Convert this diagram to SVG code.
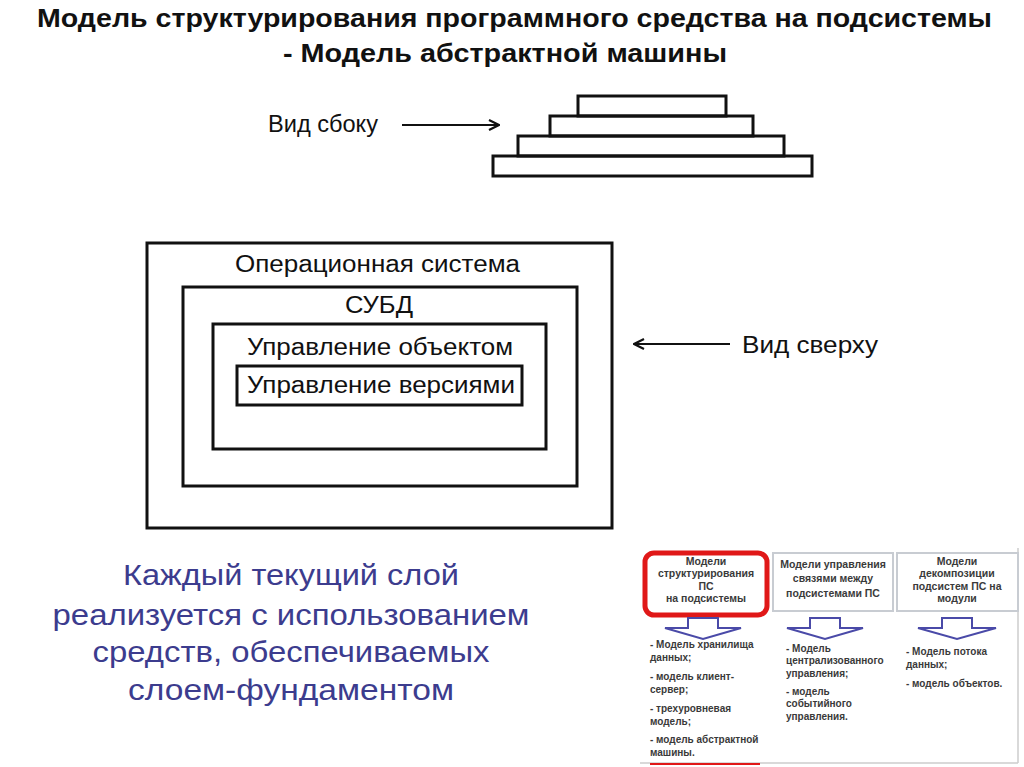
<svg xmlns="http://www.w3.org/2000/svg" width="1024" height="767" viewBox="0 0 1024 767">
<defs>
<style>
.title{font-family:"Liberation Sans",Arial,sans-serif;font-weight:bold;font-size:25px;fill:#111}
.lbl{font-family:"Liberation Sans",Arial,sans-serif;font-size:23px;fill:#111}
.box{fill:none;stroke:#111;stroke-width:3}
.blue{font-family:"Liberation Sans",Arial,sans-serif;font-size:30px;fill:#3c3c8e;text-anchor:middle}
.sm{font-family:"Liberation Sans",Arial,sans-serif;font-weight:bold;font-size:10px;fill:#3a3a3a}
.smc{font-family:"Liberation Sans",Arial,sans-serif;font-weight:bold;font-size:10.5px;fill:#3a3a3a;text-anchor:middle}
.barrow{fill:#fff;stroke:#4a4aa8;stroke-width:2;stroke-linejoin:miter}
</style>
<marker id="chev" viewBox="0 0 12 12" refX="11" refY="6" markerWidth="12" markerHeight="12" markerUnits="userSpaceOnUse" orient="auto">
<path d="M1,1 L11,6 L1,11" fill="none" stroke="#111" stroke-width="2.2"/>
</marker>
</defs>
<rect width="1024" height="767" fill="#fff"/>

<g id="title">
<text class="title" x="37" y="27" textLength="955" lengthAdjust="spacingAndGlyphs">Модель структурирования программного средства на подсистемы</text>
<text class="title" x="283" y="62" textLength="444" lengthAdjust="spacingAndGlyphs">- Модель абстрактной машины</text>
</g>

<g id="side-view">
<rect class="box" x="578" y="96" width="148" height="20"/>
<rect class="box" x="550" y="116" width="203" height="20"/>
<rect class="box" x="518" y="136" width="266" height="20"/>
<rect class="box" x="493" y="156" width="319" height="20"/>
</g>

<g id="label-side">
<text class="lbl" x="268" y="132" textLength="110" lengthAdjust="spacingAndGlyphs">Вид сбоку</text>
</g>
<g id="label-top">
<text class="lbl" x="742" y="353" textLength="136" lengthAdjust="spacingAndGlyphs">Вид сверху</text>
</g>

<g id="top-view">
<rect class="box" x="147" y="243" width="465" height="285"/>
<text class="lbl" x="235" y="272" textLength="285" lengthAdjust="spacingAndGlyphs">Операционная система</text>
<rect class="box" x="183" y="287" width="394" height="199"/>
<text class="lbl" x="345" y="313" textLength="68" lengthAdjust="spacingAndGlyphs">СУБД</text>
<rect class="box" x="213" y="324" width="333" height="125"/>
<text class="lbl" x="247" y="355" textLength="266" lengthAdjust="spacingAndGlyphs">Управление объектом</text>
<rect class="box" x="237" y="366" width="285" height="39" stroke-width="2.5"/>
<text class="lbl" x="247" y="393" textLength="268" lengthAdjust="spacingAndGlyphs">Управление версиями</text>
</g>

<g id="connectors">
<line x1="402" y1="125" x2="499" y2="125" stroke="#111" stroke-width="2" marker-end="url(#chev)"/>
<line x1="730" y1="344" x2="634" y2="344" stroke="#111" stroke-width="2" marker-end="url(#chev)"/>
</g>

<g id="caption">
<text class="blue" x="291" y="585" textLength="336" lengthAdjust="spacingAndGlyphs">Каждый текущий слой</text>
<text class="blue" x="291" y="625" textLength="477" lengthAdjust="spacingAndGlyphs">реализуется с использованием</text>
<text class="blue" x="291" y="662" textLength="397" lengthAdjust="spacingAndGlyphs">средств, обеспечиваемых</text>
<text class="blue" x="291" y="700" textLength="326" lengthAdjust="spacingAndGlyphs">слоем-фундаментом</text>
</g>

<g id="thumbnail">
<line x1="1018" y1="548" x2="1018" y2="763" stroke="#ccc" stroke-width="1.5"/>
<line x1="640" y1="763" x2="1018" y2="763" stroke="#ccc" stroke-width="1.5"/>
<rect x="645" y="553" width="122" height="62" rx="9" fill="#fff" stroke="#e01818" stroke-width="5"/>
<text class="smc" x="706" y="565">Модели</text>
<text class="smc" x="706" y="577">структурирования</text>
<text class="smc" x="706" y="590">ПС</text>
<text class="smc" x="706" y="602">на подсистемы</text>
<rect x="773" y="553" width="120" height="58" fill="#fff" stroke="#c8ccd2" stroke-width="2"/>
<text class="smc" x="833" y="568">Модели управления</text>
<text class="smc" x="833" y="582">связями между</text>
<text class="smc" x="833" y="597">подсистемами ПС</text>
<rect x="897" y="553" width="121" height="58" fill="#fff" stroke="#c8ccd2" stroke-width="2"/>
<text class="smc" x="957" y="565">Модели</text>
<text class="smc" x="957" y="577">декомпозиции</text>
<text class="smc" x="957" y="590">подсистем ПС на</text>
<text class="smc" x="957" y="602">модули</text>

<polygon class="barrow" points="688,618 718,618 718,628 741,628 703,639 665,628 688,628"/>
<polygon class="barrow" points="810,618 840,618 840,628 863,628 825,639 787,628 810,628"/>
<polygon class="barrow" points="942,618 972,618 972,628 996,628 957,639 918,628 942,628"/>

<text class="sm" x="650" y="648">- Модель хранилища</text>
<text class="sm" x="650" y="661">данных;</text>
<text class="sm" x="650" y="680">- модель клиент-</text>
<text class="sm" x="650" y="693">сервер;</text>
<text class="sm" x="650" y="712">- трехуровневая</text>
<text class="sm" x="650" y="725">модель;</text>
<text class="sm" x="650" y="743">- модель абстрактной</text>
<text class="sm" x="650" y="756">машины.</text>
<line x1="650" y1="764" x2="760" y2="764" stroke="#e01818" stroke-width="2"/>

<text class="sm" x="786" y="652">- Модель</text>
<text class="sm" x="786" y="664">централизованного</text>
<text class="sm" x="786" y="677">управления;</text>
<text class="sm" x="786" y="695">- модель</text>
<text class="sm" x="786" y="707">событийного</text>
<text class="sm" x="786" y="720">управления.</text>

<text class="sm" x="906" y="655">- Модель потока</text>
<text class="sm" x="906" y="668">данных;</text>
<text class="sm" x="906" y="687">- модель объектов.</text>
</g>
</svg>
